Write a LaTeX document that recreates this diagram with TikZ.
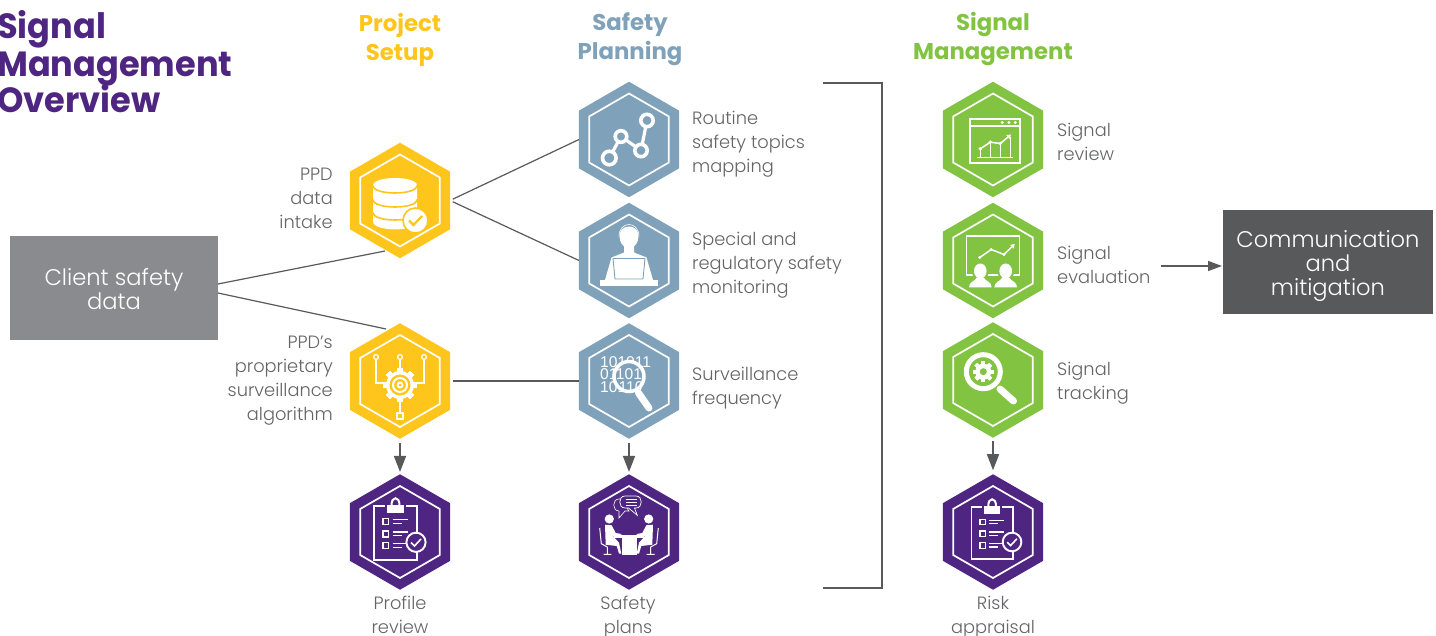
\documentclass[tikz,border=0pt]{standalone}
\usepackage{fontspec}
\setmainfont{Poppins}[UprightFont=* Light,BoldFont=* Bold]
\newfontfamily\digitfont{Liberation Sans}
\newfontfamily\ttlfont{Poppins}[UprightFont=* Bold,FakeStretch=.96]
\usetikzlibrary{shapes.geometric,arrows.meta}
\definecolor{cyel}{HTML}{FEC51C}
\definecolor{cblu}{HTML}{7FA2BA}
\definecolor{cgrn}{HTML}{82C341}
\definecolor{cpur}{HTML}{4F2582}
\definecolor{ctxt}{HTML}{636466}
\definecolor{cdark}{HTML}{58595B}
\definecolor{cgray}{HTML}{8A8B8E}
\tikzset{
  hexa/.style={regular polygon,regular polygon sides=6,shape border rotate=30,minimum size=115.5pt,inner sep=0pt,outer sep=0pt},
  hexin/.style={regular polygon,regular polygon sides=6,shape border rotate=30,minimum size=92pt,inner sep=0pt,outer sep=0pt,draw=white,line width=1.7pt},
  lab/.style={text=ctxt,font=\fontsize{17.8}{24}\selectfont,inner sep=0pt},
  labl/.style={lab,align=left,anchor=west},
  labr/.style={lab,align=right,anchor=east},
  labc/.style={lab,align=center,anchor=center},
  head/.style={font=\bfseries\fontsize{22.8}{29}\selectfont,align=center,inner sep=0pt},
  ttl/.style={font=\ttlfont\fontsize{35}{37}\selectfont,text=cpur,inner sep=0pt,anchor=base west},
  boxw/.style={text=white,font=\fontsize{22.6}{24}\selectfont,align=center,inner sep=0pt},
  conn/.style={draw=cdark,line width=1.2pt},
  arr/.style={draw=cdark,line width=1.6pt,-{Triangle[length=16pt,width=12pt]}},
  wl/.style={draw=white,line width=1.5pt},
  dig/.style={text=white,font=\digitfont\fontsize{15.6}{12.6}\selectfont,inner sep=0pt},
}
\newcommand{\hexnode}[4]{%
  \node[hexa,fill=#4] (#1) at (#2,#3) {};
  \node[hexin] (#1in) at (#2,#3) {};
}
\newcommand{\clipicon}[1]{%
  \draw[wl,line width=1.8pt] (-15,-26) -- (-25.7,-26) -- (-25.7,28) -- (17.3,28) -- (17.3,-26) -- (6,-26);
  \fill[white] (-13,-27) rectangle (4,-19);
  \draw[white,line width=2pt] (-8.5,-27) .. controls (-8.5,-36) and (-0.5,-36) .. (-0.5,-27);
  \foreach \yy in {-10.3,2,13.7}{
    \draw[white,line width=1.1pt] (-17,\yy-3) rectangle (-11.3,\yy+3);
    \draw[white,line width=1.1pt] (-7.5,\yy-2) -- (7.5,\yy-2);
    \draw[white,line width=1.1pt] (-7.5,\yy+1.8) -- (1.5,\yy+1.8);
  }
  \fill[#1,draw=white,line width=1.9pt] (16,10.3) circle (9.6);
  \draw[white,line width=1.6pt] (11,10.5) -- (14.5,14) -- (21,7);
}
\newcommand{\gearteeth}[3]{%
  \foreach \a in {0,45,...,315}{
    \fill[#3,rotate=\a] (-#2,-#1) rectangle (#2,#1);
  }
}
\begin{document}
\begin{tikzpicture}[x=1pt,y=-1pt]
\useasboundingbox (0,0) rectangle (1436,636);
% title
\node[ttl] (t1) at (-3,39) {Signal};
\node[ttl] (t2) at (-3,76.7) {Management};
\node[ttl] (t3) at (-3,113) {Overview};
% headers
\node[head,text=cyel] (hp) at (400,39.5) {Project\\Setup};
\node[head,text=cblu] (hs) at (630,39.5) {Safety\\Planning};
\node[head,text=cgrn] (hm) at (993,39.5) {Signal\\Management};
% hexagons
\hexnode{y1}{400}{200.5}{cyel}
\hexnode{y2}{400}{381}{cyel}
\hexnode{p1}{400}{532}{cpur}
\hexnode{b1}{629}{139.5}{cblu}
\hexnode{b2}{629}{260.5}{cblu}
\hexnode{b3}{629}{381}{cblu}
\hexnode{p2}{629}{532}{cpur}
\hexnode{g1}{993}{139.5}{cgrn}
\hexnode{g2}{993}{260.5}{cgrn}
\hexnode{g3}{993}{380}{cgrn}
\hexnode{p3}{993}{532}{cpur}
% database icon
\begin{scope}[shift={(y1.center)}]
  \fill[white] (-27,-15) .. controls (-27,-25) and (17,-25) .. (17,-15) -- (17,21) .. controls (17,31.5) and (-27,31.5) .. (-27,21) -- cycle;
  \foreach \cc in {-15,-1,12}{
    \draw[cyel,line width=1.6pt] (-27,\cc) .. controls (-27,\cc+10) and (17,\cc+10) .. (17,\cc);
  }
  \fill[white,draw=cyel,line width=1.6pt] (15.5,20) circle (12.5);
  \draw[cyel,line width=2.2pt] (9,20) -- (13.5,24.5) -- (22,15.5);
\end{scope}
% algorithm icon
\begin{scope}[shift={(y2.center)}]
  \begin{scope}[shift={(0,4)}]
    \gearteeth{17}{3}{white}
    \fill[white] (0,0) circle (14);
    \fill[cyel] (0,0) circle (10.5);
    \draw[white,line width=2pt] (0,0) circle (7);
    \fill[white] (0,0) circle (3.5);
    \fill[cyel] (0,0) circle (1.5);
  \end{scope}
  \draw[wl,line width=1.3pt] (-24,-21) -- (-24,2) -- (-17,2);
  \draw[wl,line width=1.3pt] (24,-21) -- (24,2) -- (17,2);
  \draw[wl,line width=1.3pt] (0,-21) -- (0,-13);
  \draw[wl,line width=1.3pt] (0,21) -- (0,32);
  \draw[wl,line width=1.3pt] (-24,-24) circle (2.4) (0,-24) circle (2.4) (24,-24) circle (2.4);
  \draw[wl,line width=1.5pt] (-3,32) rectangle (3,38);
\end{scope}
% clipboards
\begin{scope}[shift={(p1.center)}]\clipicon{cpur}\end{scope}
\begin{scope}[shift={(p3.center)},xshift=3.5pt,scale=.97]\clipicon{cpur}\end{scope}
% route icon
\begin{scope}[shift={(b1.center)}]
  \draw[white,line width=3.2pt] (-19.7,18.5) -- (-8,-3) -- (12,11) -- (18,-19);
  \fill[cblu,draw=white,line width=3.6pt] (-19.7,18.5) circle (6.8) (-8,-3) circle (5.8) (12,11) circle (6.2) (18,-19) circle (6.2);
\end{scope}
% person icon
\begin{scope}[shift={(b2.center)}]
  \draw[white,line width=.6pt] (-10,-24) .. controls (-10,-40) and (10,-40) .. (10,-24);
  \fill[white] (-24,19.5) -- (-17.5,-3) -- (-5,-8) -- (-5,-14) .. controls (-12,-20) and (-11,-34) .. (0,-34) .. controls (11,-34) and (12,-20) .. (5,-14) -- (5,-8) -- (17.5,-3) -- (24,19.5) -- cycle;
  \draw[cblu,line width=.9pt,fill=white] (-16,-2) -- (16,-2) -- (14,18.5) -- (-14,18.5) -- cycle;
  \fill[white] (-29,19.8) rectangle (29,25.5);
\end{scope}
% surveillance icon
\begin{scope}[shift={(b3.center)}]
  \node[dig,align=left,anchor=west] (digits) at (-29,-6.5) {101011\\01101\\10110};
  \fill[cblu] (0,-4.5) circle (16);
  \begin{scope}
    \clip (0,-4.5) circle (14);
    \node[dig] (digitm) at (0,-6.5) {101};
    \node[dig] (digitn) at (2,6) {110};
  \end{scope}
  \draw[white,line width=3.5pt] (0,-4.5) circle (15);
  \draw[white,line width=7pt,line cap=round] (9.5,12) -- (20,27);
\end{scope}
% meeting icon
\begin{scope}[shift={(p2.center)}]
  \draw[white,line width=.6pt,fill=cpur] (-8,-33) -- (-10,-33) .. controls (-17,-33) and (-17,-21) .. (-10,-21) -- (-10,-14) -- (-4,-21) -- (0,-21) -- cycle;
  \draw[white,line width=.7pt,fill=cpur] (-4,-36) -- (7,-36) .. controls (14,-36) and (14,-24) .. (7,-24) -- (5.5,-24) -- (8.3,-16.7) -- (-0.5,-24) -- (-4,-24) .. controls (-11,-24) and (-11,-36) .. (-4,-36) -- cycle;
  \draw[white,line width=1pt] (-3.3,-32.7) -- (7.7,-32.7) (-3.3,-29.8) -- (7.7,-29.8) (-3.3,-26.9) -- (7.7,-26.9);
  \foreach \sx in {1,-1}{
    \begin{scope}[xscale=\sx]
      \fill[white] (-19.7,-13) circle (4.6);
      \fill[white] (-24,-7.3) -- (-17.3,-6.7) -- (-13.3,1) -- (-7.7,2) -- (-7.7,4) -- (-16,4) -- (-10,10.7) -- (-7.7,21.7) -- (-10,21.7) -- (-12.3,14) -- (-23.3,12.7) -- cycle;
      \draw[white,line width=1pt] (-29.3,-4) -- (-27.7,11.7) -- (-21.7,15) -- (-21.7,22.3) (-25.5,22.3) -- (-17.7,22.3);
    \end{scope}
  }
  \fill[white] (-15,2.7) rectangle (15,5.7);
  \fill[white] (-7.3,5.7) rectangle (8.3,23.3);
\end{scope}
% window chart icon
\begin{scope}[shift={(g1.center)}]
  \draw[wl] (-23,-20.7) rectangle (27,23.3);
  \draw[wl] (-23,-13.3) -- (27,-13.3);
  \fill[white] (9.3,-17) circle (1.6) (16,-17) circle (1.6) (22.3,-17) circle (1.6);
  \draw[wl,line width=1.1pt] (-16,17.7) -- (20,17.7);
  \draw[wl,line width=1.1pt] (-12.7,9.3) -- (-12.7,17.7) (-2.7,2.7) -- (-2.7,17.7) (7.3,4) -- (7.3,17.7);
  \draw[white,line width=.6pt] (17.5,-2) -- (17.5,17.7);
  \draw[wl,-{Triangle[length=4pt,width=5pt]}] (-12.7,9.3) -- (-2.7,2.7) -- (7.3,4) -- (18,-5);
  \fill[white] (-12.7,9.3) circle (1.9) (-2.7,2.7) circle (1.9) (7.3,4) circle (1.9);
\end{scope}
% board icon
\begin{scope}[shift={(g2.center)}]
  \draw[wl] (-26.3,14.5) -- (-26.3,-24.5) -- (26.3,-24.5) -- (26.3,14.5) -- cycle;
  \draw[wl,-{Triangle[length=4pt,width=5pt]}] (-13.3,-3) -- (-1.7,-11) -- (11,-6) -- (21.7,-16.5);
  \fill[white] (-13.3,-3) circle (1.6) (-1.7,-11) circle (1.6) (11,-6) circle (1.6);
  \foreach \sx in {-12.7,12.7}{
    \begin{scope}[xshift=\sx pt]
      \fill[cgrn] (0,10.5) ellipse [x radius=8.5,y radius=9.5];
      \fill[cgrn] (-13,28) -- (-13,20) -- (-5,14) -- (5,14) -- (13,20) -- (13,28) -- cycle;
      \fill[white] (0,10.5) ellipse [x radius=6.3,y radius=7.5];
      \fill[white] (-11.3,26.8) .. controls (-11.5,21) and (-5,21) .. (-3.5,17) -- (3.5,17) .. controls (5,21) and (11.5,21) .. (11.3,26.8) -- cycle;
    \end{scope}
  }
\end{scope}
% magnifier gear icon
\begin{scope}[shift={(g3.center)}]
  \begin{scope}[shift={(-9.7,-8.3)}]
    \gearteeth{10.5}{2}{white}
    \fill[white] (0,0) circle (8);
    \fill[cgrn] (0,0) circle (3.5);
    \draw[white,line width=5pt] (0,0) circle (17);
  \end{scope}
  \draw[white,line width=7pt,line cap=round] (7,9) -- (20.5,21);
\end{scope}
% boxes
\node[fill=cgray,minimum width=208pt,minimum height=104pt,inner sep=0pt] (client) at (114,288) {};
\node[fill=cdark,minimum width=210pt,minimum height=104pt,inner sep=0pt] (comm) at (1328,262) {};
\node[boxw] (clienttxt) at (114,289) {Client safety\\data};
\node[boxw] (commtxt) at (1328,266) {Communication\\and\\mitigation};
% labels
\node[labr] (l1) at (333,198) {PPD\\data\\intake};
\node[labr] (l2) at (333,381) {PPD's\\proprietary\\surveillance\\algorithm};
\node[labl] (l3) at (692,144) {Routine\\safety topics\\mapping};
\node[labl] (l4) at (692,265) {Special and\\regulatory safety\\monitoring};
\node[labl] (l5) at (692,388) {Surveillance\\frequency};
\node[labl] (l6) at (1057,142) {Signal\\review};
\node[labl] (l7) at (1057,265) {Signal\\evaluation};
\node[labl] (l8) at (1057,383) {Signal\\tracking};
\node[labc] (l9) at (400,615) {Profile\\review};
\node[labc] (l10) at (628,617) {Safety\\plans};
\node[labc] (l11) at (993,617) {Risk\\appraisal};
% connectors
\coordinate (ca) at (218,284);
\coordinate (cb) at (218,293);
\coordinate (ya) at (385,251);
\coordinate (yb) at (386,329);
\coordinate (ea) at (1161,266);
\coordinate (eb) at (1222,266);
\draw[conn] (ca) -- (ya);
\draw[conn] (cb) -- (yb);
\draw[conn,shorten <=3pt] (y1.east) -- (b1.west);
\draw[conn,shorten <=3pt] (y1.east) -- (b2.west);
\draw[conn,shorten <=3pt] (y2.east) -- (b3.west);
\draw[arr,shorten <=4.5pt,shorten >=2.3pt] (y2.south) -- (p1.north);
\draw[arr,shorten <=4.5pt,shorten >=2.3pt] (b3.south) -- (p2.north);
\draw[arr,shorten <=3pt,shorten >=4pt] (g3.south) -- (p3.north);
\draw[arr,line width=1.3pt,-{Triangle[length=14pt,width=10pt]}] (ea) -- (eb);
% bracket
\coordinate (ba) at (823,83);
\coordinate (bb) at (882,83);
\coordinate (bc) at (882,588);
\coordinate (bd) at (823,588);
\draw[conn,line width=1.3pt] (ba) -- (bb) -- (bc) -- (bd);
\end{tikzpicture}
\end{document}
